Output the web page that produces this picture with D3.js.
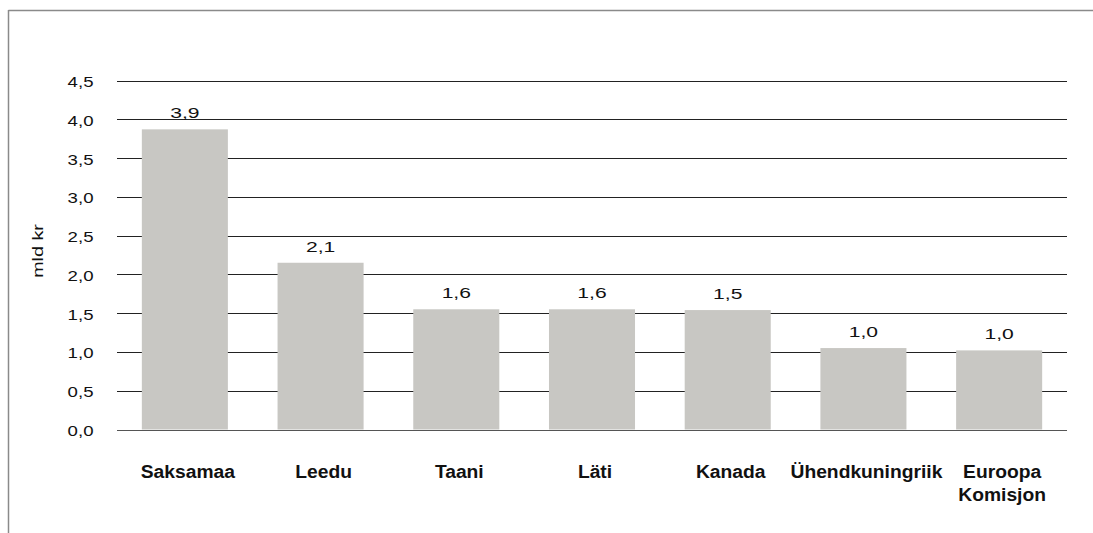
<!DOCTYPE html>
<html>
<head>
<meta charset="utf-8">
<script src="https://cdn.jsdelivr.net/npm/d3@7"></script>
<style>
  html, body { margin: 0; padding: 0; background: #fff; }
  svg { display: block; }
  text { font-family: "Liberation Sans", Arial, Helvetica, sans-serif; fill: #111; }
</style>
</head>
<body>
<svg id="chart" width="1093" height="533"></svg>
<script>
// ---- data ----
const categories = ["Saksamaa", "Leedu", "Taani", "Läti", "Kanada", "Ühendkuningriik", "Euroopa\nKomisjon"];
const values = [3.87, 2.15, 1.55, 1.55, 1.54, 1.05, 1.02];
const valueLabels = ["3,9", "2,1", "1,6", "1,6", "1,5", "1,0", "1,0"];
const yTicks = [0, 0.5, 1.0, 1.5, 2.0, 2.5, 3.0, 3.5, 4.0, 4.5];
const yTitle = "mld kr";

// ---- layout ----
const W = 1093, H = 533;
const plot = { left: 117, right: 1067, top: 80.5, bottom: 429.5 };

const svg = d3.select("#chart");

// frame
svg.append("line").attr("x1", 8.5).attr("x2", W).attr("y1", 10.5).attr("y2", 10.5)
  .attr("stroke", "#8a8a8a").attr("stroke-width", 1.5);
svg.append("line").attr("x1", 8.5).attr("x2", 8.5).attr("y1", 10).attr("y2", H)
  .attr("stroke", "#8a8a8a").attr("stroke-width", 1.5);

const x = d3.scaleBand().domain(categories)
  .range([plot.left, plot.right]).paddingInner(0.366).paddingOuter(0.183);
const y = d3.scaleLinear().domain([0, 4.5]).range([plot.bottom, plot.top]);

const fmt = v => d3.format(".1f")(v).replace(".", ",");

// grid lines
svg.append("g").selectAll("line").data(yTicks).join("line")
  .attr("x1", plot.left).attr("x2", plot.right)
  .attr("y1", d => Math.round(y(d)) + 0.5).attr("y2", d => Math.round(y(d)) + 0.5)
  .attr("stroke", d => d === 0 ? "#555" : "#222").attr("stroke-width", 1);

// y tick labels (wide rendering)
svg.append("g").selectAll("text").data(yTicks).join("text")
  .attr("transform", d => `translate(93.5,${y(d) + 6.5}) scale(1.33,1)`)
  .attr("text-anchor", "end")
  .style("font-size", "14px")
  .text(fmt);

// y title
svg.append("text")
  .attr("transform", `translate(43,251) rotate(-90) scale(1.36,1)`)
  .attr("text-anchor", "middle")
  .style("font-size", "14.5px")
  .text(yTitle);

// bars
svg.append("g").selectAll("rect").data(categories).join("rect")
  .attr("x", d => x(d))
  .attr("width", x.bandwidth())
  .attr("y", (d, i) => y(values[i]))
  .attr("height", (d, i) => y(0) - y(values[i]))
  .attr("fill", "#c8c7c3");

// value labels
svg.append("g").selectAll("text").data(categories).join("text")
  .attr("transform", (d, i) => `translate(${x(d) + x.bandwidth() / 2},${y(values[i]) - 11}) scale(1.36,1)`)
  .attr("text-anchor", "middle")
  .style("font-size", "15.5px")
  .text((d, i) => valueLabels[i]);

// category labels
const cat = svg.append("g").selectAll("text").data(categories).join("text")
  .attr("transform", d => `translate(${x(d) + x.bandwidth() / 2 + 3},478) scale(1.07,1)`)
  .attr("text-anchor", "middle")
  .style("font-size", "18px")
  .style("font-weight", "bold");
cat.each(function(d) {
  const lines = d.split("\n");
  d3.select(this).selectAll("tspan").data(lines).join("tspan")
    .attr("x", 0).attr("dy", (l, i) => i === 0 ? 0 : 23.5)
    .text(l => l);
});
</script>
</body>
</html>
